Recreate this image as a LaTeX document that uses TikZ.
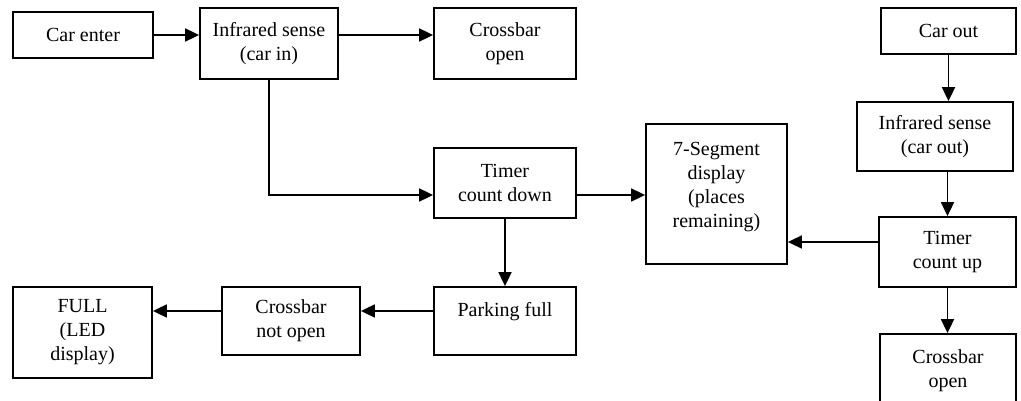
\documentclass[tikz,border=0pt]{standalone}
\usepackage{fontspec}
\setmainfont{Liberation Serif}
\usetikzlibrary{arrows.meta}
\begin{document}
\begin{tikzpicture}[x=1pt,y=-1pt,
  blk/.style={draw, line width=1.8pt, rectangle, align=center, inner sep=0pt,
    font=\fontsize{20}{24}\selectfont},
  arr/.style={line width=1.8pt, -{Triangle[length=14pt,width=13pt]}}]
\useasboundingbox (0,0) rectangle (1021,401);
\node[blk, minimum width=140pt, minimum height=46pt] (carin) at (83,35) {Car enter};
\node[blk, minimum width=138pt, minimum height=71pt] (irin) at (269,43.5) {Infrared sense\\(car in)};
\node[blk, minimum width=142pt, minimum height=71pt] (cbopen1) at (505,43.5) {Crossbar\\open};
\node[blk, minimum width=135pt, minimum height=46pt] (carout) at (948.5,31) {Car out};
\node[blk, minimum width=156pt, minimum height=69pt] (irout) at (935,136.5) {Infrared sense\\(car out)};
\node[blk, minimum width=142pt, minimum height=70pt] (timerdown) at (505,183) {Timer\\count down};
\node[blk, minimum width=141pt, minimum height=140pt] (seg) at (716.5,194) {7-Segment\\display\\(places\\remaining)\\[-6pt]\mbox{}};
\node[blk, minimum width=137pt, minimum height=70pt] (timerup) at (947.5,252) {Timer\\count up};
\node[blk, minimum width=142pt, minimum height=68pt] (parkfull) at (505,321) {Parking full\\\mbox{}};
\node[blk, minimum width=138pt, minimum height=68pt] (cbnot) at (291,321) {Crossbar\\not open};
\node[blk, minimum width=139pt, minimum height=91pt] (full) at (82.5,332.5) {FULL\\(LED\\display)};
\node[blk, minimum width=136pt, minimum height=74pt] (cbopen2) at (948,371) {Crossbar\\open};
% connectors
\draw[arr] (carin.east) -- (carin.east -| irin.west);
\draw[arr] ([yshift=8.5pt]irin.east) -- ([yshift=8.5pt]irin.east -| cbopen1.west);
\draw[arr] (carout.south) -- (carout.south |- irout.north);
\draw[arr] (timerup.north |- irout.south) -- (timerup.north);
\draw[arr] (irin.south) |- ([yshift=-12pt]timerdown.west);
\draw[arr] ([yshift=-12pt]timerdown.east) -- ([yshift=-12pt]timerdown.east -| seg.west);
\draw[arr] ([yshift=10pt]timerup.west) -- ([yshift=10pt]timerup.west -| seg.east);
\draw[arr] (timerdown.south) -- (parkfull.north);
\draw[arr] ([yshift=10pt]parkfull.west) -- ([yshift=10pt]parkfull.west -| cbnot.east);
\draw[arr] ([yshift=10pt]cbnot.west) -- ([yshift=10pt]cbnot.west -| full.east);
\draw[arr] (timerup.south) -- (timerup.south |- cbopen2.north);
\end{tikzpicture}
\end{document}
